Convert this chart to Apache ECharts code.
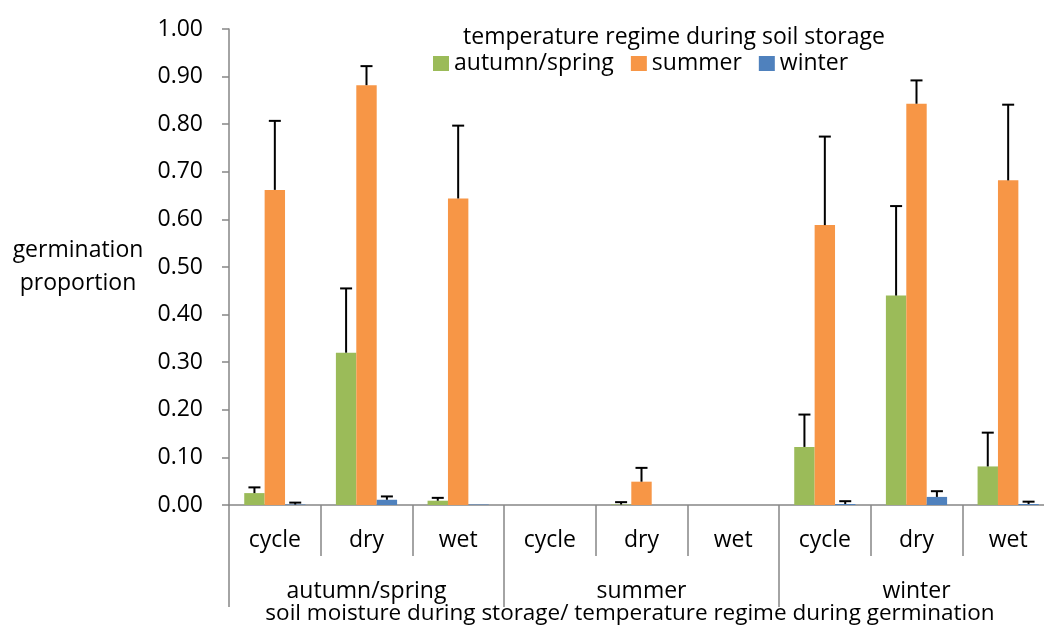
<!DOCTYPE html>
<html>
<head>
<meta charset="utf-8">
<script src="https://cdn.jsdelivr.net/npm/echarts@6/dist/echarts.min.js"></script>
<style>
html,body{margin:0;padding:0;background:#fff;overflow:hidden;}
#chart{width:1044px;height:628px;}
</style>
</head>
<body>
<div id="chart"></div>
<script>
const categories = ['cycle','dry','wet','cycle','dry','wet','cycle','dry','wet'];
const groups = ['autumn/spring','summer','winter'];
const seriesNames = ['autumn/spring','summer','winter'];
const autumnSpring = [0.025, 0.32, 0.009, 0, 0.001, 0, 0.122, 0.44, 0.081];
const summer       = [0.662, 0.882, 0.644, 0, 0.049, 0, 0.588, 0.843, 0.682];
const winter       = [0.001, 0.011, 0.001, 0, 0, 0, 0.002, 0.017, 0.002];
const autumnSpringErr = [0.012, 0.135, 0.006, 0, 0.005, 0, 0.068, 0.188, 0.071];
const summerErr       = [0.145, 0.04, 0.153, 0, 0.029, 0, 0.186, 0.049, 0.159];
const winterErr       = [0.004, 0.007, 0, 0, 0, 0, 0.006, 0.012, 0.005];
const yTicks = {min: 0, max: 1, interval: 0.1};

const colors = ['#9BBB59', '#F79646', '#4F81BD'];
const FONT = 'Open Sans';
const FS = 23;
const values = [autumnSpring, summer, winter];
const errs = [autumnSpringErr, summerErr, winterErr];
const BAR_W = 20.4;

const chart = echarts.init(document.getElementById('chart'), null, {renderer: 'canvas', width: 1044, height: 628});

const barSeries = values.map((vals, s) => ({
  name: seriesNames[s],
  type: 'bar',
  xAxisIndex: 0,
  data: vals,
  barWidth: BAR_W,
  barGap: '0%',
  itemStyle: {color: colors[s]},
  z: 2
}));

const errSeries = values.map((vals, s) => ({
  type: 'custom',
  xAxisIndex: 0,
  silent: true,
  z: 5,
  data: vals.map((v, i) => [i, v + errs[s][i], v, errs[s][i]]),
  renderItem: function (params, api) {
    const e = api.value(3);
    if (!(e > 0)) return null;
    const top = api.coord([api.value(0), api.value(1)]);
    const base = api.coord([api.value(0), api.value(2)]);
    const x = top[0] + (s - 1) * BAR_W;
    const style = {stroke: '#000', lineWidth: 2};
    return {
      type: 'group',
      children: [
        {type: 'line', shape: {x1: x, y1: base[1], x2: x, y2: top[1]}, style: style},
        {type: 'line', shape: {x1: x - 6, y1: top[1], x2: x + 6, y2: top[1]}, style: style}
      ]
    };
  }
}));

const option = {
  backgroundColor: '#fff',
  animation: false,
  textStyle: {fontFamily: FONT},
  title: {
    text: 'temperature regime during soil storage',
    left: 669, top: 21, textAlign: 'center',
    textStyle: {fontFamily: FONT, fontSize: FS, fontWeight: 'normal', color: '#000'}
  },
  legend: {
    data: seriesNames,
    left: 428, top: 47,
    icon: 'rect', itemWidth: 16, itemHeight: 15, itemGap: 17,
    textStyle: {fontFamily: FONT, fontSize: FS, color: '#000'}
  },
  grid: {left: 229, top: 29, width: 825, height: 476, containLabel: false, outerBoundsMode: 'none'},
  xAxis: [
    {
      type: 'category', data: categories, position: 'bottom',
      axisLine: {show: true, lineStyle: {color: '#868686', width: 1.5}},
      axisTick: {show: true, interval: 0, length: 51, lineStyle: {color: '#868686', width: 1.5}},
      axisLabel: {interval: 0, margin: 24, fontFamily: FONT, fontSize: FS, color: '#000'},
      splitLine: {show: false}
    },
    {
      type: 'category', data: groups, position: 'bottom',
      axisLine: {show: false},
      axisTick: {show: true, interval: 0, length: 102, lineStyle: {color: '#868686', width: 1.5}},
      axisLabel: {interval: 0, margin: 75, fontFamily: FONT, fontSize: FS, color: '#000'},
      splitLine: {show: false}
    }
  ],
  yAxis: {
    type: 'value', min: yTicks.min, max: yTicks.max, interval: yTicks.interval,
    axisLine: {show: true, lineStyle: {color: '#868686', width: 1.5}},
    axisTick: {show: true, length: 7, lineStyle: {color: '#868686', width: 1.5}},
    axisLabel: {margin: 26, fontFamily: FONT, fontSize: FS, color: '#000',
      formatter: v => v.toFixed(2)},
    splitLine: {show: false},
    name: 'germination\nproportion',
    nameLocation: 'middle', nameRotate: 0, nameGap: 151,
    nameTextStyle: {fontFamily: FONT, fontSize: FS, color: '#000', align: 'center', lineHeight: 33}
  },
  graphic: [{
    type: 'text', x: 630, y: 614,
    style: {text: 'soil moisture during storage/ temperature regime during germination',
      font: '22.5px "' + FONT + '"', fill: '#000', align: 'center', verticalAlign: 'middle'}
  }],
  series: barSeries.concat(errSeries)
};
chart.setOption(option);
</script>
</body>
</html>
